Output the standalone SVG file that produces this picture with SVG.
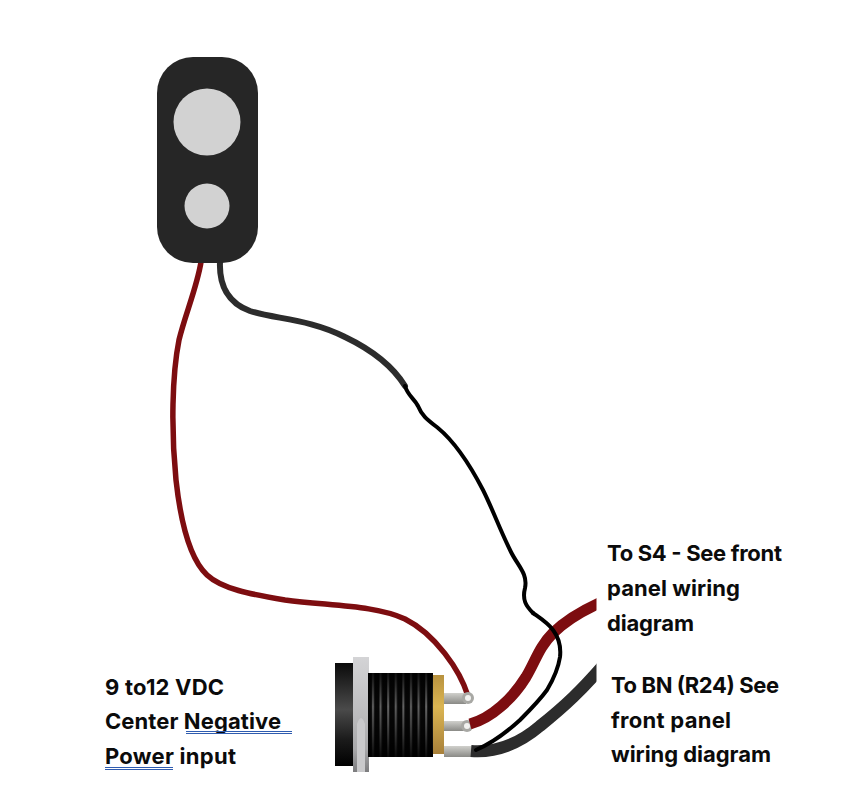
<svg xmlns="http://www.w3.org/2000/svg" width="844" height="800" viewBox="0 0 844 800">
<style>
.t{font-family:"Inter","Liberation Sans",sans-serif;font-weight:700;font-size:22px;fill:#0b0b0b}
.w{fill:none;stroke-linecap:round;stroke-linejoin:round}
.red{stroke:#7d0d10}
.blk{stroke:#000}
.gr{stroke:#2c2c2c}
.u{stroke:#2f5cb0;stroke-width:1;fill:none}
</style>
<defs>
<linearGradient id="cap" x1="0" y1="0" x2="0" y2="1"><stop offset="0" stop-color="#0a0a0a"/><stop offset=".45" stop-color="#4a4a4a"/><stop offset=".75" stop-color="#1a1a1a"/><stop offset="1" stop-color="#000"/></linearGradient>
<linearGradient id="flange" x1="0" y1="0" x2="0" y2="1"><stop offset="0" stop-color="#d4d4d6"/><stop offset=".5" stop-color="#bcbcbe"/><stop offset=".8" stop-color="#a8a8aa"/><stop offset="1" stop-color="#7c7c7e"/></linearGradient>
<linearGradient id="gold" x1="0" y1="0" x2="0" y2="1"><stop offset="0" stop-color="#b8923f"/><stop offset=".4" stop-color="#dbb552"/><stop offset="1" stop-color="#a8803a"/></linearGradient>
<linearGradient id="pin" x1="0" y1="0" x2="0" y2="1"><stop offset="0" stop-color="#d0d0cc"/><stop offset="1" stop-color="#8a8a86"/></linearGradient>
<pattern id="thread" x="369" y="0" width="7.600" height="10" patternUnits="userSpaceOnUse"><rect width="7.600" height="10" fill="#070707"/><rect x="3" width="2" height="10" fill="#6a6a6a"/></pattern>
<linearGradient id="threadshade" x1="0" y1="0" x2="0" y2="1"><stop offset="0" stop-color="#000" stop-opacity=".85"/><stop offset=".4" stop-color="#000" stop-opacity=".05"/><stop offset=".6" stop-color="#000" stop-opacity=".3"/><stop offset="1" stop-color="#000" stop-opacity=".9"/></linearGradient>
<clipPath id="cut"><rect x="0" y="0" width="596.500" height="800"/></clipPath>
</defs>
<rect width="844" height="800" fill="#fff"/>
<g id="connectors">
<path class="w red" stroke-width="5.500" d="M201 262C197 287 185 315 179 340C172 375 171 430 176 480C181 525 191 560 207 575C222 589 250 594 285 600C330 606 375 605 405 619C435 634 460 670 468 696"/>
<path class="w gr" stroke-width="6" d="M220 262C219 285 228 303 250 311C275 319 310 319 345 337C370 349 392 365 405 386"/>
<path class="w blk" stroke-width="4" d="M405 386C408 396 414 398 418 406C422 416 428 420 438 428C455 442 470 465 483 490C493 510 500 530 511 552C518 566 528 574 525 588C522 600 526 606 533 613"/>
</g>
<g id="jack">
<rect x="335" y="663" width="20" height="103" fill="url(#cap)"/>
<rect x="353" y="657" width="16" height="115" fill="url(#flange)"/>
<path d="M357 772V724Q361 712 365 724V772Z" fill="#c9c9cb"/>
<rect x="368" y="673" width="65" height="84" fill="url(#thread)"/>
<rect x="368" y="673" width="65" height="84" fill="url(#threadshade)"/>
<rect x="433" y="675" width="11" height="79" fill="url(#gold)"/>
<path d="M444 693H466V704H444Z" fill="url(#pin)"/>
<circle cx="468" cy="698" r="6" fill="#a8a8a4"/>
<circle cx="468" cy="698" r="3" fill="#f2f2f0"/>
<path d="M444 721H466V731H444Z" fill="url(#pin)"/>
<circle cx="467" cy="726" r="6" fill="#a8a8a4"/>
<circle cx="467" cy="726" r="3" fill="#f2f2f0"/>
<rect x="444" y="746" width="28" height="11" fill="url(#pin)"/>
</g>
<g id="jack-wires" clip-path="url(#cut)">
<path fill="none" stroke="#7d0d10" stroke-width="11" d="M470 724C492 718 513 698 526 677C536 660 539 647 553 633C567 619 585 609 606 600"/>
<path fill="none" stroke="#2c2c2c" stroke-width="12" d="M471 751C497 753 520 743 540 726C565 706 582 690 606 662"/>
<path class="w blk" stroke-width="4" d="M533 613C540 618 548 623 553 630C559 638 561 648 560 657C558 670 553 680 547 690C539 701 530 710 520 720C508 731 492 743 476 750"/>
</g>
<g id="battery-clip">
<rect x="157" y="57" width="101" height="206" rx="36" ry="36" fill="#262626"/>
<circle cx="207" cy="122" r="33.500" fill="#d2d2d2"/>
<circle cx="207" cy="206" r="22.500" fill="#d2d2d2"/>
</g>
<g id="label-power">
<text class="t" x="105" y="695" textLength="119">9 to12 VDC</text>
<text class="t" x="105" y="729" textLength="176">Center Negative</text>
<text class="t" x="105" y="764" textLength="131">Power input</text>
<path class="u" d="M186 731.500H292M186 733.500H292M105 767.500H173M105 769.500H173"/>
</g>
<g id="label-s4">
<text class="t" x="607" y="561" textLength="175">To S4 - See front</text>
<text class="t" x="607" y="596" textLength="133">panel wiring</text>
<text class="t" x="607" y="631" textLength="87">diagram</text>
</g>
<g id="label-bn">
<text class="t" x="611" y="693" textLength="168">To BN (R24) See</text>
<text class="t" x="611" y="728" textLength="120">front panel</text>
<text class="t" x="611" y="762" textLength="160">wiring diagram</text>
</g>
</svg>
